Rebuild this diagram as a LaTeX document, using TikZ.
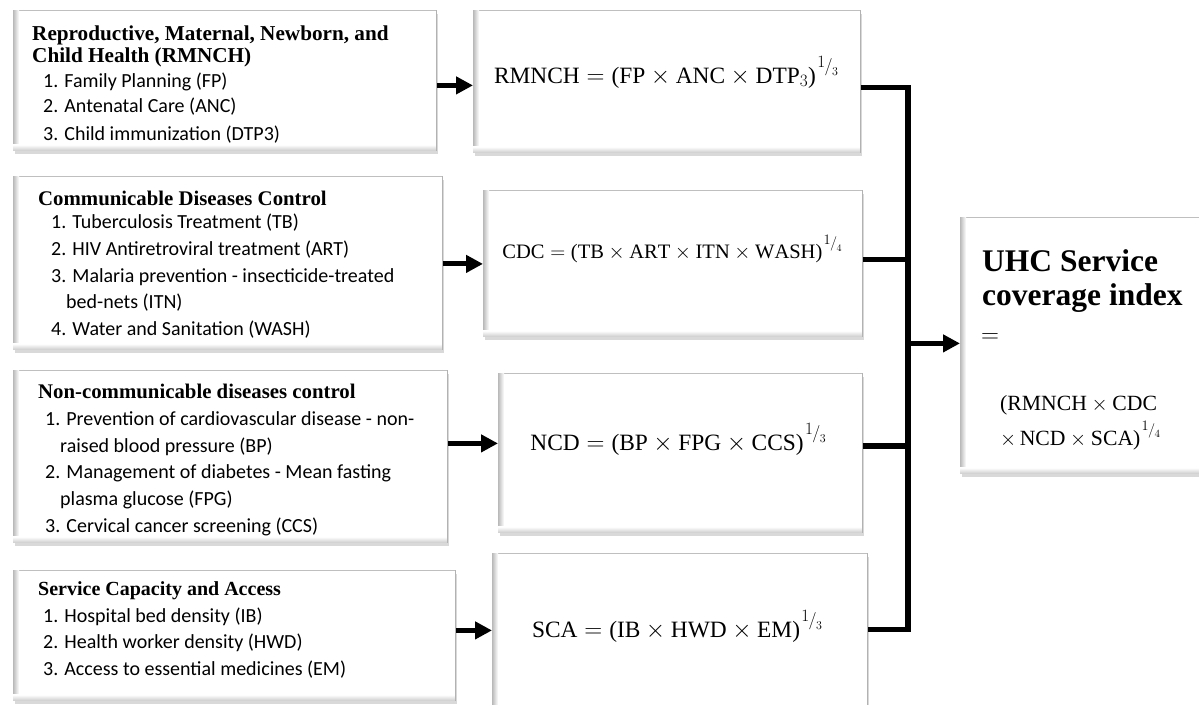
\documentclass[tikz,border=0pt]{standalone}
\usepackage{fontspec}
\setmainfont{Liberation Serif}
\newfontfamily\bodyfont{Carlito}
\usetikzlibrary{shadows,arrows.meta}
\newcommand\ex[2]{\mathord{\kern0.06em\raisebox{0.68em}{$\scriptstyle #1$}\kern-0.03em\raisebox{0.5em}{$\scriptstyle /$}\kern-0.02em\raisebox{0.34em}{$\scriptscriptstyle #2$}}}
\newcommand\lp{\mathopen{\mbox{(}}}
\newcommand\rp{\mathclose{\mbox{)}}}
\newcommand\nb{\hspace*{0.75em}}
\begin{document}
\begin{tikzpicture}[x=1pt,y=-1pt,
  box/.style={draw=gray!50, line width=0.8pt, fill=white, inner sep=0pt, anchor=north west,
    drop shadow={shadow xshift=1.5pt, shadow yshift=-3.5pt, opacity=0.3}},
  hd/.style={font=\fontsize{20.8}{22}\selectfont\bfseries, anchor=base west, inner sep=0pt},
  it/.style={font=\bodyfont\fontsize{20}{26}\selectfont, anchor=base west, inner sep=0pt},
  fm/.style={font=\fontsize{23.4}{26}\selectfont, anchor=base, inner sep=0pt},
  big/.style={font=\fontsize{31.5}{34}\selectfont\bfseries, anchor=base west, inner sep=0pt},
  arr/.style={line width=5pt, -{Triangle[length=17pt,width=17pt]}},
  bus/.style={line width=5.5pt, line join=miter},
]
\useasboundingbox (0,0) rectangle (1199,704);
\clip (0,0) rectangle (1199,704);

% left boxes
\node[box, minimum width=423pt, minimum height=140pt] (L1) at (13,10) {};
\node[box, minimum width=429pt, minimum height=173pt] (L2) at (13,176) {};
\node[box, minimum width=434pt, minimum height=172pt] (L3) at (13,370) {};
\node[box, minimum width=442pt, minimum height=130pt] (L4) at (13,570) {};
% formula boxes
\node[box, minimum width=387pt, minimum height=142pt] (A) at (473,10) {};
\node[box, minimum width=379pt, minimum height=146pt] (B) at (483,190) {};
\node[box, minimum width=364pt, minimum height=159pt] (C) at (498,373) {};
\node[box, minimum width=375pt, minimum height=160pt] (D) at (492,553) {};
% result box
\node[box, minimum width=250pt, minimum height=256pt] (U) at (960,217) {};

% bevel edges
\foreach \b in {L1,L2,L3,L4,A,B,C,D,U}{
  \shade[left color=gray!55, right color=white] (\b.north west) rectangle ([xshift=6pt]\b.south west);
  \shade[bottom color=gray!40, top color=white] ([yshift=6pt]\b.south west) rectangle (\b.south east);
  \draw[gray!60, line width=0.8pt] (\b.north east) -- (\b.south east);
}

% texts box L1 (clipped at its lower edge)
\begin{scope}
\clip (13,10) rectangle (436,144);
\node[hd, font=\fontsize{21.2}{22}\selectfont\bfseries] (l1a) at (32,40) {Reproductive, Maternal, Newborn, and};
\node[hd, font=\fontsize{21.2}{22}\selectfont\bfseries] (l1b) at (32,62) {Child Health (RMNCH)};
\node[it] (l1c) at (43,87) {1. Family Planning (FP)};
\node[it] (l1d) at (43,112) {2. Antenatal Care (ANC)};
\node[it] (l1e) at (43,140) {3. Child immunization (DTP3)};
\end{scope}

% texts box L2
\node[hd] (l2a) at (38,205) {Communicable Diseases Control};
\node[it] (l2b) at (51,228) {1. Tuberculosis Treatment (TB)};
\node[it] (l2c) at (51,255) {2. HIV Antiretroviral treatment (ART)};
\node[it] (l2d) at (51,282) {3. Malaria prevention - insecticide-treated};
\node[it] (l2e) at (51,308) {\nb bed-nets (ITN)};
\node[it] (l2f) at (51,335) {4. Water and Sanitation (WASH)};

% texts box L3
\node[hd] (l3a) at (38,398) {Non-communicable diseases control};
\node[it] (l3b) at (45,425) {1. Prevention of cardiovascular disease - non-};
\node[it] (l3c) at (45,452) {\nb raised blood pressure (BP)};
\node[it] (l3d) at (45,478) {2. Management of diabetes - Mean fasting};
\node[it] (l3e) at (45,505) {\nb plasma glucose (FPG)};
\node[it] (l3f) at (45,532) {3. Cervical cancer screening (CCS)};

% texts box L4
\node[hd, font=\fontsize{20}{22}\selectfont\bfseries] (l4a) at (38,595) {Service Capacity and Access};
\node[it] (l4b) at (43,622) {1. Hospital bed density (IB)};
\node[it] (l4c) at (43,648) {2. Health worker density (HWD)};
\node[it] (l4d) at (43,675) {3. Access to essential medicines (EM)};

% formulas
\node[fm] (fa) at (666,83) {$\mathrm{RMNCH}=\lp\mathrm{FP}\times\mathrm{ANC}\times\mathrm{DTP}_3\rp\ex{1}{3}$};
\node[fm, font=\fontsize{20.5}{24}\selectfont] (fb) at (672,258) {$\mathrm{CDC}=\lp\mathrm{TB}\times\mathrm{ART}\times\mathrm{ITN}\times\mathrm{WASH}\rp\ex{1}{4}$};
\node[fm] (fc) at (678,450) {$\mathrm{NCD}=\lp\mathrm{BP}\times\mathrm{FPG}\times\mathrm{CCS}\rp\ex{1}{3}$};
\node[fm] (fd) at (677,637) {$\mathrm{SCA}=\lp\mathrm{IB}\times\mathrm{HWD}\times\mathrm{EM}\rp\ex{1}{3}$};

% result texts
\node[big] (ua) at (982,271) {UHC Service};
\node[big] (ub) at (982,305) {coverage index};
\node[fm, anchor=base west, font=\fontsize{25}{26}\selectfont] (uc) at (981,342) {$=$};
\node[fm, anchor=base west, font=\fontsize{21.7}{24}\selectfont] (ud) at (1000,410) {$\lp\mathrm{RMNCH}\times\mathrm{CDC}$};
\node[fm, anchor=base west, font=\fontsize{21.7}{24}\selectfont] (ue) at (1000,445) {$\times\,\mathrm{NCD}\times\mathrm{SCA}\rp\ex{1}{4}$};

% arrows left -> formula
\coordinate (a1) at ([yshift=-5pt]L1.east);
\coordinate (a2) at ([yshift=-1pt]L2.east);
\coordinate (a3) at ([yshift=13pt]L3.east);
\coordinate (a4) at ([yshift=5pt]L4.east);
\draw[arr] (a1) -- (a1 -| A.west);
\draw[arr] (a2) -- (a2 -| B.west);
\draw[arr] (a3) -- (a3 -| C.west);
\draw[arr] (a4) -- (a4 -| D.west);

% bus
\coordinate (busx) at (908,0);
\coordinate (ca) at ([yshift=-6pt]A.east);
\coordinate (cb) at ([yshift=4pt]B.east);
\coordinate (cc) at ([yshift=7pt]C.east);
\coordinate (cd) at ([yshift=4pt]D.east);
\coordinate (cu) at ([yshift=2pt]U.west);
\draw[bus] (ca) -| (busx |- cd) -- (cd);
\draw[bus] (cb) -- (cb -| busx);
\draw[bus] (cc) -- (cc -| busx);
\draw[arr] (cu -| busx) -- (cu);
\end{tikzpicture}
\end{document}
